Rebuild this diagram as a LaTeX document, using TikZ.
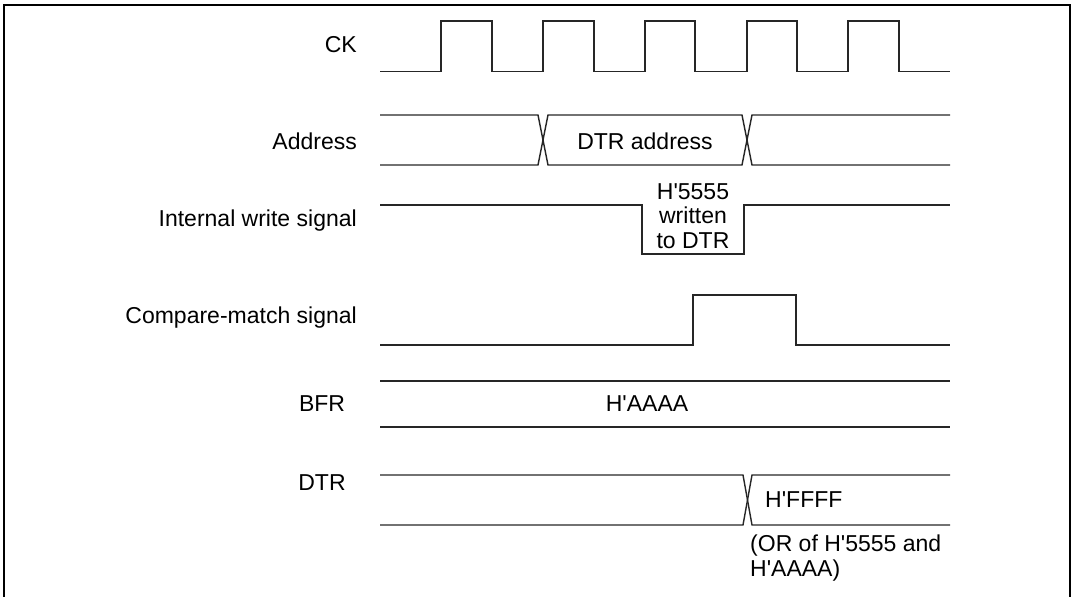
\documentclass[tikz,border=0pt]{standalone}
\usepackage{fontspec}
\setmainfont{Liberation Sans}
\newcommand{\sq}{\textquotesingle}
\begin{document}
\begin{tikzpicture}[x=1pt,y=-1pt,
  sig/.style={line width=1.4pt, draw=black!85, line join=miter},
  lbl/.style={font=\fontsize{23}{24.5}\selectfont, inner sep=0pt},
  frame/.style={line width=2.6pt}]
\useasboundingbox (0,0) rectangle (1074,597);
\clip (0,0) rectangle (1074,597);
\draw[frame] (4,620) -- (4,5) -- (1070,5) -- (1070,620);

% labels
\node[lbl, anchor=east] (lck) at (357,45) {CK};
\node[lbl, anchor=east] (ladr) at (357,141) {Address};
\node[lbl, anchor=east] (lwr) at (357,221) {Internal write signal};
\node[lbl, anchor=east] (lcm) at (357,318) {Compare-match signal};
\node[lbl] (lbfr) at (322,404) {BFR};
\node[lbl] (ldtr) at (322,483) {DTR};

% CK
\draw[sig] (380,71.5) -- (441,71.5) -- (441,21) -- (492,21) -- (492,71.5)
  -- (543,71.5) -- (543,21) -- (594,21) -- (594,71.5)
  -- (645,71.5) -- (645,21) -- (695,21) -- (695,71.5)
  -- (747,71.5) -- (747,21) -- (797,21) -- (797,71.5)
  -- (848,71.5) -- (848,21) -- (899,21) -- (899,71.5) -- (950,71.5);

% Address
\draw[sig] (380,115) -- (538,115) -- (548,165) -- (742,165) -- (752,115) -- (950,115);
\draw[sig] (380,165) -- (538,165) -- (548,115) -- (742,115) -- (752,165) -- (950,165);
\node[lbl] (tadr) at (645,141) {DTR address};

% Internal write
\draw[sig] (380,205) -- (642,205) -- (642,254) -- (744,254) -- (744,205) -- (950,205);
\node[lbl, align=center] (twr) at (693,216) {H\sq5555\\written\\to DTR};

% Compare-match
\draw[sig] (380,345) -- (693,345) -- (693,295) -- (796,295) -- (796,345) -- (950,345);

% BFR
\draw[sig] (380,381) -- (950,381);
\draw[sig] (380,427) -- (950,427);
\node[lbl] (tbfr) at (647,404) {H\sq AAAA};

% DTR
\draw[sig] (380,475) -- (743,475) -- (752,525) -- (950,525);
\draw[sig] (380,525) -- (743,525) -- (752,475) -- (950,475);
\node[lbl, anchor=west] (tdtr) at (765,500) {H\sq FFFF};
\node[lbl, anchor=north west, align=left] (tor) at (750,535) {(OR of H\sq5555 and\\H\sq AAAA)};
\end{tikzpicture}
\end{document}
